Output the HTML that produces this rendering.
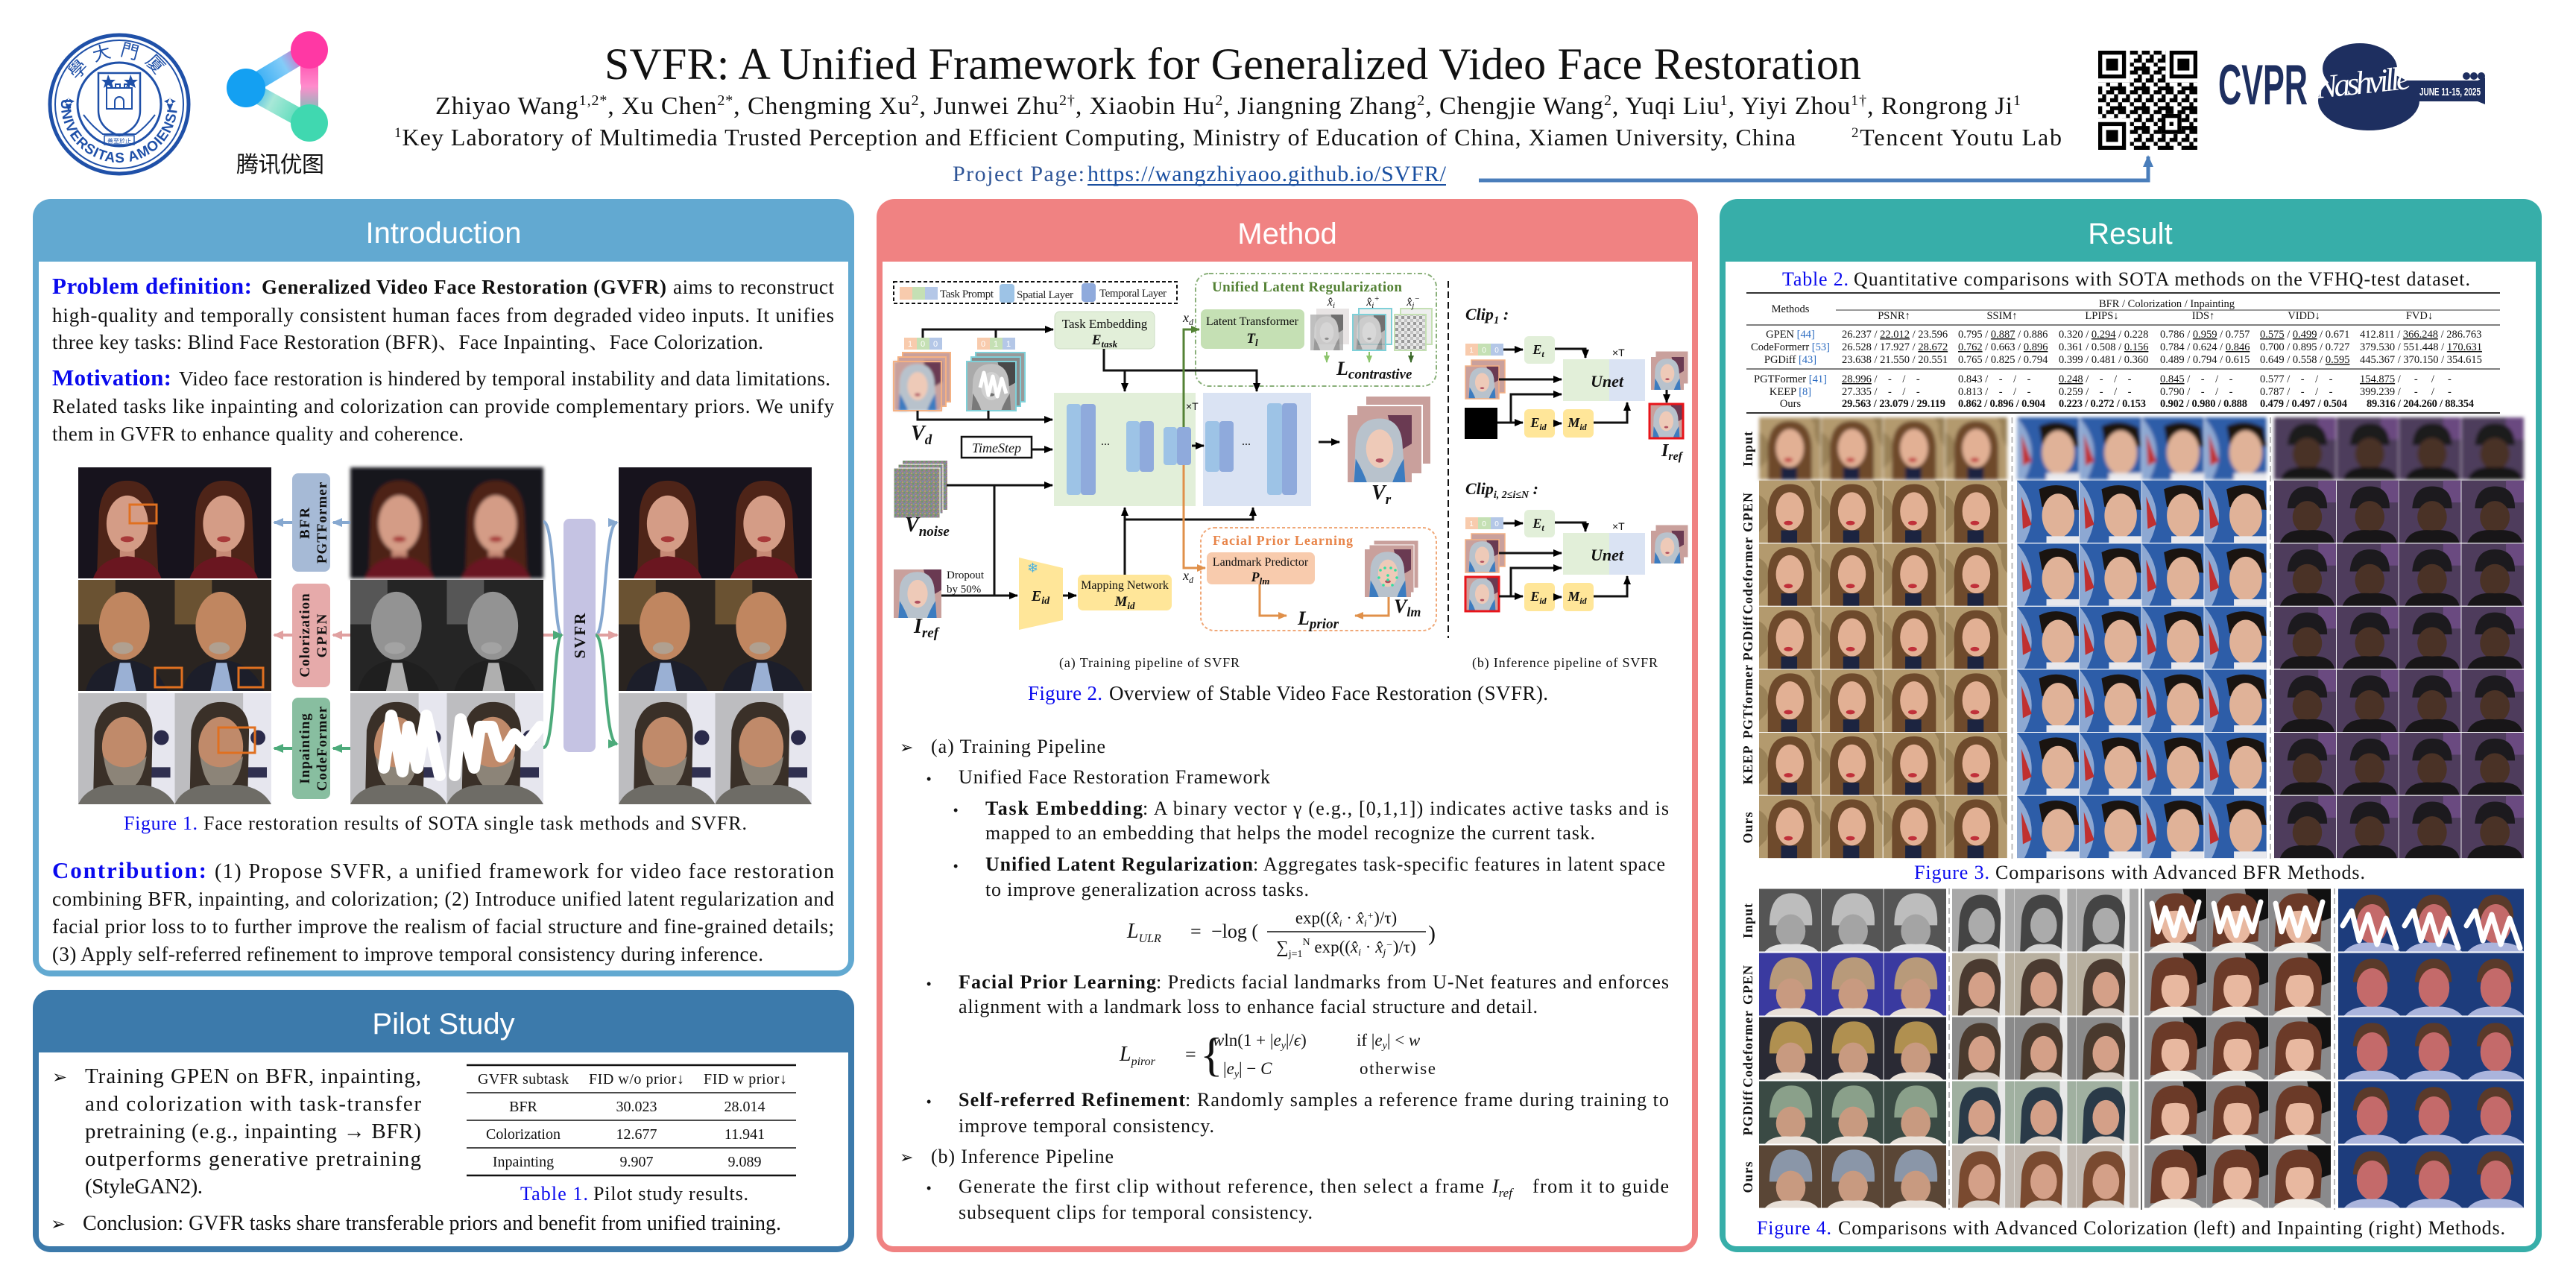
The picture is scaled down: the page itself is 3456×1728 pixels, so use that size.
<!DOCTYPE html>
<html><head><meta charset="utf-8">
<style>
html,body{margin:0;padding:0;background:#fff;}
svg{display:block}
.s{font-family:"Liberation Serif","Noto Serif CJK SC",serif;}
.sa{font-family:"Liberation Sans","Noto Sans CJK SC",sans-serif;}
.cj{font-family:"Liberation Sans","Noto Sans CJK SC",sans-serif;}
.b{font-weight:bold}
.it{font-style:italic}
.bl{fill:#0a0aee}
.pre{white-space:pre}
</style></head><body>
<svg width="3456" height="1728" viewBox="0 0 3456 1728" xmlns="http://www.w3.org/2000/svg" xmlns:xlink="http://www.w3.org/1999/xlink">
<defs>
<marker id="ak" markerWidth="14" markerHeight="14" refX="11" refY="7" orient="auto" markerUnits="userSpaceOnUse"><path d="M0,2 L12,7 L0,12 Z" fill="#000"/></marker>
<marker id="ag" markerWidth="14" markerHeight="14" refX="11" refY="7" orient="auto" markerUnits="userSpaceOnUse"><path d="M0,2 L12,7 L0,12 Z" fill="#548235"/></marker>
<marker id="alg" markerWidth="12" markerHeight="12" refX="9" refY="6" orient="auto" markerUnits="userSpaceOnUse"><path d="M0,2 L10,6 L0,10 Z" fill="#8cc46c"/></marker>
<marker id="adg" markerWidth="12" markerHeight="12" refX="9" refY="6" orient="auto" markerUnits="userSpaceOnUse"><path d="M0,2 L10,6 L0,10 Z" fill="#3c6a2a"/></marker>
<marker id="ao" markerWidth="14" markerHeight="14" refX="11" refY="7" orient="auto" markerUnits="userSpaceOnUse"><path d="M0,2 L12,7 L0,12 Z" fill="#e0904a"/></marker>
<marker id="ab1" markerWidth="16" markerHeight="16" refX="12" refY="8" orient="auto" markerUnits="userSpaceOnUse"><path d="M0,2 L14,8 L0,14 Z" fill="#86a8d0"/></marker>
<marker id="ap1" markerWidth="16" markerHeight="16" refX="12" refY="8" orient="auto" markerUnits="userSpaceOnUse"><path d="M0,2 L14,8 L0,14 Z" fill="#e0a0a0"/></marker>
<marker id="agr" markerWidth="16" markerHeight="16" refX="12" refY="8" orient="auto" markerUnits="userSpaceOnUse"><path d="M0,2 L14,8 L0,14 Z" fill="#4caa7a"/></marker>
<marker id="aq" markerWidth="18" markerHeight="18" refX="14" refY="9" orient="auto" markerUnits="userSpaceOnUse"><path d="M0,2 L16,9 L0,16 Z" fill="#4a7ebb"/></marker>
<filter id="gy"><feColorMatrix type="saturate" values="0"/></filter>
<filter id="blr" x="-5%" y="-5%" width="110%" height="110%"><feGaussianBlur stdDeviation="2.5"/></filter>
<filter id="blr2" x="-5%" y="-5%" width="110%" height="110%"><feGaussianBlur stdDeviation="1.5"/></filter>
<pattern id="qrp" width="31.92" height="26.6" patternUnits="userSpaceOnUse" x="2815" y="68">
<path d="M0 0h5.32v5.32h-5.32z M10.64 0h10.64v5.32h-10.64z M26.6 0h5.32v5.32h-5.32z M5.32 5.32h5.32v5.32h-5.32z M21.28 5.32h5.32v10.64h-5.32z M0 10.64h10.64v5.32h-10.64z M15.96 10.64h5.32v5.32h-5.32z M10.64 15.96h5.32v5.32h-5.32z M26.6 15.96h5.32v10.64h-5.32z M0 21.28h5.32v5.32h-5.32z M15.96 21.28h10.64v5.32h-10.64z" fill="#000"/>
</pattern>
<pattern id="nz" width="6" height="6" patternUnits="userSpaceOnUse">
<rect width="6" height="6" fill="#8a8a80"/><rect x="0" y="0" width="2" height="2" fill="#6a9a6a"/><rect x="3" y="1" width="2" height="2" fill="#a07aa0"/><rect x="1" y="3" width="2" height="2" fill="#7a8ab0"/><rect x="4" y="4" width="2" height="2" fill="#b0a070"/>
</pattern>
<pattern id="mos" width="8" height="8" patternUnits="userSpaceOnUse">
<rect width="8" height="8" fill="#e8e8e8"/><rect width="4" height="4" fill="#9a9a9a"/><rect x="4" y="4" width="4" height="4" fill="#c4c4c4"/>
</pattern>
<linearGradient id="tg1" gradientUnits="userSpaceOnUse" x1="330" y1="118" x2="415" y2="67"><stop offset="0" stop-color="#14a0f2"/><stop offset=".6" stop-color="#84ccf8"/><stop offset="1" stop-color="#ff3aa6"/></linearGradient>
<linearGradient id="tg2" gradientUnits="userSpaceOnUse" x1="415" y1="67" x2="415" y2="165"><stop offset="0" stop-color="#ff3aa6"/><stop offset=".5" stop-color="#ff8ccc"/><stop offset="1" stop-color="#40d8b0"/></linearGradient>
<linearGradient id="tg3" gradientUnits="userSpaceOnUse" x1="330" y1="118" x2="415" y2="165"><stop offset="0" stop-color="#14a0f2"/><stop offset=".4" stop-color="#a8e8d8"/><stop offset="1" stop-color="#40d8b0"/></linearGradient>

<symbol id="mw" viewBox="0 0 80 80" preserveAspectRatio="none">
<rect width="80" height="80" fill="#c9a09c"/>
<path d="M50 0 L80 0 L80 34 L66 42 L56 22Z" fill="#6a3a52"/>
<path d="M8 80 L10 30 Q14 4 40 4 Q64 4 68 30 L72 80Z" fill="#b8c2cc"/>
<path d="M8 80 L10 52 Q20 68 24 80Z M72 80 L70 52 Q60 68 56 80Z" fill="#3c7cc0"/>
<ellipse cx="40" cy="40" rx="17" ry="23" fill="#eecab8"/>
<ellipse cx="40" cy="54" rx="5" ry="2.5" fill="#b05060"/>
</symbol>
<symbol id="i1" viewBox="0 0 130 150" preserveAspectRatio="none">
<rect width="130" height="150" fill="#17131d"/>
<path d="M25 150 L28 60 Q32 18 66 18 Q100 18 104 60 L108 150Z" fill="#4e2418"/>
<rect x="56" y="104" width="20" height="22" fill="#c68a76"/>
<ellipse cx="66" cy="76" rx="28" ry="38" fill="#d49c86"/>
<path d="M20 150 Q30 122 66 120 Q102 122 112 150Z" fill="#6a1620"/>
<ellipse cx="66" cy="97" rx="9" ry="4" fill="#a83a3a"/>
</symbol>
<symbol id="i2" viewBox="0 0 130 150" preserveAspectRatio="none">
<rect width="130" height="150" fill="#2a2420"/>
<rect x="0" y="0" width="50" height="60" fill="#6a5232"/>
<ellipse cx="62" cy="62" rx="34" ry="46" fill="#c08660"/>
<path d="M10 150 Q20 110 62 108 Q104 110 120 150Z" fill="#1c1e2a"/>
<path d="M48 150 L56 112 L70 112 L78 150Z" fill="#9ab0d4"/>
<ellipse cx="60" cy="92" rx="14" ry="8" fill="#b0a090"/>
</symbol>
<symbol id="i3" viewBox="0 0 130 150" preserveAspectRatio="none">
<rect width="130" height="150" fill="#bdbdc0"/>
<rect x="92" y="0" width="38" height="150" fill="#e6e6ee"/>
<circle cx="112" cy="60" r="10" fill="#2a2a4a"/>
<rect x="98" y="100" width="26" height="14" fill="#303050"/>
<path d="M20 150 L22 50 Q30 10 65 12 Q98 14 100 50 L98 150Z" fill="#3a3028"/>
<ellipse cx="62" cy="72" rx="30" ry="40" fill="#c08a6a"/>
<path d="M34 85 Q40 130 62 130 Q86 130 92 85 Q80 100 62 100 Q44 100 34 85Z" fill="#8c8478"/>
<path d="M0 150 Q10 128 40 124 L88 124 Q118 128 130 150Z" fill="#6e6c66"/>
</symbol>
<symbol id="fA" viewBox="0 0 84 85" preserveAspectRatio="none">
<rect width="84" height="85" fill="#b39a6e"/>
<path d="M0 20 Q20 30 10 60 L0 70Z M70 0 L84 0 L84 40Q74 30 76 10Z" fill="#9a8258"/>
<path d="M12 85 L12 40 Q14 5 42 5 Q70 5 72 40 L72 85Z" fill="#6e4a2c"/>
<ellipse cx="42" cy="42" rx="19" ry="26" fill="#e2b094"/>
<ellipse cx="40" cy="58" rx="6" ry="3" fill="#c0303a"/>
<rect x="30" y="68" width="22" height="17" fill="#1c2440"/>
</symbol>
<symbol id="fB" viewBox="0 0 84 85" preserveAspectRatio="none">
<rect width="84" height="85" fill="#2d5da8"/>
<path d="M0 0 Q34 40 10 85 L0 85Z" fill="#dde6f4" opacity=".55"/>
<path d="M6 22 L20 60 L8 66Z" fill="#c03030"/>
<path d="M30 12 Q55 0 80 14 L84 40 L34 36Z" fill="#1a1410"/>
<ellipse cx="56" cy="48" rx="22" ry="30" fill="#e0b298"/>
<rect x="40" y="76" width="44" height="9" fill="#e8e8ec"/>
</symbol>
<symbol id="fC" viewBox="0 0 84 85" preserveAspectRatio="none">
<rect width="84" height="85" fill="#4e3c5c"/>
<rect x="60" y="0" width="24" height="30" fill="#6a4a80"/>
<path d="M18 38 Q20 8 45 8 Q72 8 72 38Z" fill="#1c1a1e"/>
<ellipse cx="45" cy="50" rx="20" ry="22" fill="#4a3226"/>
<path d="M8 85 Q15 65 45 68 Q78 65 82 85Z" fill="#181618"/>
</symbol>
<symbol id="g4A" viewBox="0 0 84 86" preserveAspectRatio="none">
<rect width="84" height="86" fill="currentColor"/>
<path d="M14 50 Q14 6 44 6 Q74 6 72 50Z"/>
<ellipse cx="43" cy="58" rx="20" ry="23" fill="#c89a80"/>
<path d="M8 86 Q18 74 43 76 Q70 74 80 86Z" fill="#e8e0d8"/>
</symbol>
<symbol id="g4B" viewBox="0 0 84 86" preserveAspectRatio="none">
<rect width="84" height="86" fill="currentColor"/>
<rect x="62" y="0" width="10" height="86" fill="#e8e8e8"/>
<path d="M8 86 L10 40 Q14 8 40 8 Q66 8 66 40 L64 86Z"/>
<ellipse cx="40" cy="50" rx="18" ry="24" fill="#d4a088"/>
<path d="M14 86 Q24 74 40 76 Q60 74 66 86Z" fill="#d8d0c8"/>
</symbol>
<symbol id="g4C" viewBox="0 0 84 86" preserveAspectRatio="none">
<rect width="84" height="86" fill="#8a8a8c"/>
<path d="M52 0 L84 0 L84 40 L62 48Z" fill="#111"/>
<path d="M8 80 L10 35 Q14 6 42 6 Q70 6 72 35 L70 72Z" fill="#6b3a28"/>
<ellipse cx="42" cy="50" rx="19" ry="25" fill="#e8b8a0"/>
<path d="M14 38 Q42 22 70 38 L70 28 Q42 8 14 28Z" fill="#6b3a28"/>
<path d="M6 86 Q20 72 42 74 Q64 72 78 86Z" fill="#f0ece6"/>
</symbol>
<symbol id="g4D" viewBox="0 0 84 86" preserveAspectRatio="none">
<rect width="84" height="86" fill="#1d3c7c"/>
<path d="M20 40 Q22 8 46 8 Q70 8 70 40Z" fill="#5a3a2a"/>
<ellipse cx="46" cy="48" rx="21" ry="27" fill="#c46a6a"/>
<path d="M8 86 Q20 72 46 74 Q72 72 84 86Z" fill="#aab4dc"/>
</symbol>

<g id="r3A"><use href="#fA" x="2360" width="82.5" height="83.6"/><use href="#fA" x="2443.3" width="82.5" height="83.6"/><use href="#fA" x="2526.6" width="82.5" height="83.6"/><use href="#fA" x="2609.9" width="83" height="83.6"/></g>
<g id="r3B"><use href="#fB" x="2706" width="83" height="83.6"/><use href="#fB" x="2789.8" width="83" height="83.6"/><use href="#fB" x="2873.5" width="83" height="83.6"/><use href="#fB" x="2957.3" width="83.5" height="83.6"/></g>
<g id="r3C"><use href="#fC" x="3051" width="83" height="83.6"/><use href="#fC" x="3134.8" width="83" height="83.6"/><use href="#fC" x="3218.5" width="83" height="83.6"/><use href="#fC" x="3302.3" width="83.7" height="83.6"/></g>
<g id="r4A"><use href="#g4A" x="2360" width="83" height="84"/><use href="#g4A" x="2443.7" width="83" height="84"/><use href="#g4A" x="2527.4" width="83.6" height="84"/></g>
<g id="r4B"><use href="#g4B" x="2619" width="83" height="84"/><use href="#g4B" x="2702.3" width="83" height="84"/><use href="#g4B" x="2785.6" width="83.4" height="84"/></g>
<g id="r4C"><use href="#g4C" x="2877" width="83" height="84"/><use href="#g4C" x="2960.3" width="83" height="84"/><use href="#g4C" x="3043.6" width="83.4" height="84"/></g>
<g id="r4D"><use href="#g4D" x="3137" width="83" height="84"/><use href="#g4D" x="3220" width="83" height="84"/><use href="#g4D" x="3303" width="83" height="84"/></g>
</defs>

<rect width="3456" height="1728" fill="#fff"/>

<!-- HEADER -->
<g transform="translate(160,140)" fill="none" stroke="#1f50a8">
<circle r="93" stroke-width="5"/>
<circle r="86" stroke-width="2"/>
<circle r="56" stroke-width="3"/>
<path d="M-28 -42 L28 -42 L28 8 Q28 32 0 42 Q-28 32 -28 8 Z" stroke-width="2.5"/>
<rect x="-17" y="-22" width="34" height="28" stroke-width="2"/>
<path d="M-17 -22 v-5 h6 v5 M-5 -22 v-5 h6 v5 M7 -22 v-5 h6 v5" stroke-width="2"/>
<path d="M-6 6 v-10 a6 6 0 0 1 12 0 v10" stroke-width="2"/>
<path d="M-48 14 Q-36 30 -22 40 L22 40 Q36 30 48 14" stroke-width="2"/>
<rect x="-20" y="42" width="40" height="12" stroke-width="1.5"/>
</g>
<g fill="#1f50a8">
<path d="M88 140 l4 -9 l4 9 l-4 9z M84 136 l8 4 l8 -4 l-8 -4z M232 140 l-4 -9 l-4 9 l4 9z M236 136 l-8 4 l-8 -4 l8 -4z"/>
<path d="M145 100 l3 7 l7 0 l-5 4 l2 7 l-7 -4 l-6 4 l2 -7 l-5 -4 l7 0z M175 100 l3 7 l7 0 l-5 4 l2 7 l-7 -4 l-6 4 l2 -7 l-5 -4 l7 0z"/>
</g>
<path id="sealB" d="M82 140 A78 78 0 0 0 238 140" fill="none"/>
<path id="sealT" d="M96 140 A64 64 0 0 1 224 140" fill="none"/>
<text class="sa b" font-size="19" fill="#1f50a8" letter-spacing="1"><textPath href="#sealB" startOffset="50%" text-anchor="middle">UNIVERSITAS AMOIENSIS</textPath></text>
<text class="cj" font-size="24" fill="#1f50a8"><textPath href="#sealT" startOffset="50%" text-anchor="middle" letter-spacing="10">學大門厦</textPath></text>
<text x="160" y="192" class="cj" font-size="8" fill="#1f50a8" text-anchor="middle">善至於止</text>

<g fill="none" stroke-linecap="round">
<line x1="330" y1="118" x2="415" y2="67" stroke="url(#tg1)" stroke-width="24"/>
<line x1="415" y1="67" x2="415" y2="165" stroke="url(#tg2)" stroke-width="24"/>
<line x1="330" y1="118" x2="415" y2="165" stroke="url(#tg3)" stroke-width="24"/>
</g>
<circle cx="330" cy="118" r="26" fill="#14a0f2"/>
<circle cx="415" cy="67" r="25" fill="#ff38a4"/>
<circle cx="415" cy="165" r="25" fill="#40d8b0"/>
<circle cx="389" cy="117" r="15" fill="#fff"/>
<text x="317" y="231" class="cj" font-size="30" fill="#111" textLength="118">腾讯优图</text>

<text x="811" y="106" class="s" font-size="60" fill="#111" textLength="1686">SVFR: A Unified Framework for Generalized Video Face Restoration</text>
<text x="584" y="153" class="s" font-size="34" fill="#111" textLength="2127">Zhiyao Wang<tspan font-size="20" dy="-12">1,2*</tspan><tspan dy="12">,  Xu Chen</tspan><tspan font-size="20" dy="-12">2*</tspan><tspan dy="12">,  Chengming Xu</tspan><tspan font-size="20" dy="-12">2</tspan><tspan dy="12">,  Junwei Zhu</tspan><tspan font-size="20" dy="-12">2†</tspan><tspan dy="12">,  Xiaobin Hu</tspan><tspan font-size="20" dy="-12">2</tspan><tspan dy="12">,  Jiangning Zhang</tspan><tspan font-size="20" dy="-12">2</tspan><tspan dy="12">,  Chengjie Wang</tspan><tspan font-size="20" dy="-12">2</tspan><tspan dy="12">,  Yuqi Liu</tspan><tspan font-size="20" dy="-12">1</tspan><tspan dy="12">,  Yiyi Zhou</tspan><tspan font-size="20" dy="-12">1†</tspan><tspan dy="12">,  Rongrong Ji</tspan><tspan font-size="20" dy="-12">1</tspan></text>
<text x="529" y="195" class="s" font-size="32" fill="#111" textLength="1880"><tspan font-size="19" dy="-11">1</tspan><tspan dy="11">Key Laboratory of Multimedia Trusted Perception and Efficient Computing, Ministry of Education of China, Xiamen University, China</tspan></text>
<text x="2484" y="195" class="s" font-size="32" fill="#111" textLength="282"><tspan font-size="19" dy="-11">2</tspan><tspan dy="11">Tencent Youtu Lab</tspan></text>
<text x="1278" y="243" class="s" font-size="30" fill="#2f5597" textLength="177">Project Page:</text>
<text x="1459" y="243" class="s" font-size="30" fill="#1a4fa0" textLength="481">https://wangzhiyaoo.github.io/SVFR/</text>
<line x1="1459" y1="248" x2="1940" y2="248" stroke="#1a4fa0" stroke-width="2"/>
<path d="M1984 242 H2882 V210" fill="none" stroke="#4a7ebb" stroke-width="5" marker-end="url(#aq)"/>

<rect x="2815" y="68" width="133" height="133" fill="url(#qrp)"/>
<g>
<rect x="2815" y="68" width="42.6" height="42.6" fill="#fff"/>
<rect x="2905.4" y="68" width="42.6" height="42.6" fill="#fff"/>
<rect x="2815" y="158.4" width="42.6" height="42.6" fill="#fff"/>
<rect x="2815" y="68" width="37.24" height="37.24" fill="#000"/><rect x="2820.32" y="73.32" width="26.6" height="26.6" fill="#fff"/><rect x="2825.64" y="78.64" width="15.96" height="15.96" fill="#000"/>
<rect x="2910.76" y="68" width="37.24" height="37.24" fill="#000"/><rect x="2916.08" y="73.32" width="26.6" height="26.6" fill="#fff"/><rect x="2921.4" y="78.64" width="15.96" height="15.96" fill="#000"/>
<rect x="2815" y="163.76" width="37.24" height="37.24" fill="#000"/><rect x="2820.32" y="169.08" width="26.6" height="26.6" fill="#fff"/><rect x="2825.64" y="174.4" width="15.96" height="15.96" fill="#000"/>
<rect x="2900" y="153" width="26.6" height="26.6" fill="#000"/><rect x="2905.3" y="158.3" width="16" height="16" fill="#fff"/><rect x="2910.6" y="163.6" width="5.32" height="5.32" fill="#000"/>
</g>

<text x="2976" y="140" class="sa b" font-size="76" fill="#1e2f60" textLength="120" lengthAdjust="spacingAndGlyphs">CVPR</text>
<ellipse cx="3166" cy="92" rx="50" ry="34" fill="#1e2f60"/>
<ellipse cx="3178" cy="135" rx="68" ry="40" fill="#1e2f60"/>
<path d="M3225 108 H3324 L3334 104 V140 L3324 136 H3225Z" fill="#1e2f60"/>
<circle cx="3309" cy="102" r="5" fill="#1e2f60"/><circle cx="3319" cy="102" r="5" fill="#1e2f60"/><circle cx="3329" cy="102" r="5" fill="#1e2f60"/>
<text x="3108" y="132" class="s it" font-size="44" fill="#fff" textLength="128" transform="rotate(-6 3108 132)">Nashville</text>
<text x="3246" y="128" class="sa b" font-size="15" fill="#fff" textLength="82" lengthAdjust="spacingAndGlyphs">JUNE 11-15, 2025</text>

<!-- PANELS -->
<rect x="44" y="267" width="1102" height="1043" rx="24" fill="#62a9d1"/>
<rect x="52" y="351" width="1086" height="951" rx="14" fill="#fff"/><rect x="52" y="351" width="1086" height="30" fill="#fff"/>
<text x="595" y="326" class="sa" font-size="40" fill="#fff" text-anchor="middle">Introduction</text>

<rect x="44" y="1328" width="1102" height="352" rx="24" fill="#3c7aab"/>
<rect x="52" y="1412" width="1086" height="260" rx="14" fill="#fff"/><rect x="52" y="1412" width="1086" height="30" fill="#fff"/>
<text x="595" y="1387" class="sa" font-size="40" fill="#fff" text-anchor="middle">Pilot Study</text>

<rect x="1176" y="267" width="1102" height="1413" rx="24" fill="#f08282"/>
<rect x="1184" y="351" width="1086" height="1321" rx="14" fill="#fff"/><rect x="1184" y="351" width="1086" height="30" fill="#fff"/>
<text x="1727" y="327" class="sa" font-size="40" fill="#fff" text-anchor="middle">Method</text>

<rect x="2307" y="267" width="1103" height="1413" rx="24" fill="#37aea9"/>
<rect x="2315" y="351" width="1087" height="1321" rx="14" fill="#fff"/><rect x="2315" y="351" width="1087" height="30" fill="#fff"/>
<text x="2858" y="327" class="sa" font-size="40" fill="#fff" text-anchor="middle">Result</text>

<!-- INTRODUCTION -->
<g class="s" fill="#111">
<text x="70" y="394" class="b bl" font-size="31" textLength="268">Problem definition:</text>
<text x="351" y="394" class="b" font-size="27" textLength="543">Generalized Video Face Restoration (GVFR)</text>
<text x="903" y="394" font-size="27" textLength="216">aims to reconstruct</text>
<text x="70" y="432" font-size="27" textLength="1049">high-quality and temporally consistent human faces from degraded video inputs. It unifies</text>
<text x="70" y="468" font-size="27" textLength="954">three key tasks: Blind Face Restoration (BFR)、Face Inpainting、Face Colorization.</text>
<text x="70" y="517" class="b bl" font-size="31" textLength="160">Motivation:</text>
<text x="240" y="517" font-size="27" textLength="874">Video face restoration is hindered by temporal instability and data limitations.</text>
<text x="70" y="554" font-size="27" textLength="1049">Related tasks like inpainting and colorization can provide complementary priors. We unify</text>
<text x="70" y="591" font-size="27" textLength="552">them in GVFR to enhance quality and coherence.</text>
</g>

<use href="#i1" x="105" y="627" width="129.5" height="149"/><use href="#i1" x="234.5" y="627" width="129.5" height="149"/>
<g filter="url(#blr)"><use href="#i1" x="470" y="627" width="129.5" height="149"/><use href="#i1" x="599.5" y="627" width="129.5" height="149"/></g>
<use href="#i1" x="830" y="627" width="129.5" height="149"/><use href="#i1" x="959.5" y="627" width="129.5" height="149"/>
<use href="#i2" x="105" y="778" width="129.5" height="149"/><use href="#i2" x="234.5" y="778" width="129.5" height="149"/>
<g filter="url(#gy)"><use href="#i2" x="470" y="778" width="129.5" height="149"/><use href="#i2" x="599.5" y="778" width="129.5" height="149"/></g>
<use href="#i2" x="830" y="778" width="129.5" height="149"/><use href="#i2" x="959.5" y="778" width="129.5" height="149"/>
<use href="#i3" x="105" y="930" width="129.5" height="149"/><use href="#i3" x="234.5" y="930" width="129.5" height="149"/>
<use href="#i3" x="470" y="930" width="129.5" height="149"/><use href="#i3" x="599.5" y="930" width="129.5" height="149"/>
<path d="M515 1030 L525 960 L540 1035 L548 975 L560 1030 L572 960 L590 1040 M610 1040 L618 965 L636 1030 L644 975 L660 975 L672 1015 L690 985 L705 1000 L725 975" fill="none" stroke="#fff" stroke-width="16" stroke-linejoin="round" stroke-linecap="round"/>
<use href="#i3" x="830" y="930" width="129.5" height="149"/><use href="#i3" x="959.5" y="930" width="129.5" height="149"/>
<g fill="none" stroke="#e07020" stroke-width="3">
<rect x="174" y="677" width="36" height="25"/><rect x="208" y="896" width="36" height="26"/><rect x="320" y="896" width="33" height="26"/><rect x="293" y="976" width="49" height="34"/>
</g>
<rect x="392" y="635" width="51" height="132" rx="8" fill="#a6bad6"/>
<rect x="392" y="783" width="51" height="139" rx="8" fill="#e6aaaa"/>
<rect x="392" y="936" width="51" height="136" rx="8" fill="#88bea0"/>
<rect x="756" y="696" width="43" height="313" rx="8" fill="#c5c3e3"/>
<g class="s b" font-size="19" fill="#111" text-anchor="middle">
<text transform="translate(415,701) rotate(-90)" letter-spacing="2">BFR</text>
<text transform="translate(438,701) rotate(-90)" letter-spacing="1">PGTFormer</text>
<text transform="translate(415,852) rotate(-90)" letter-spacing="1">Colorization</text>
<text transform="translate(438,852) rotate(-90)" letter-spacing="2">GPEN</text>
<text transform="translate(415,1004) rotate(-90)" letter-spacing="1">Inpainting</text>
<text transform="translate(438,1004) rotate(-90)" letter-spacing="1">CodeFormer</text>
<text transform="translate(785,852) rotate(-90)" font-size="21" letter-spacing="2">SVFR</text>
</g>
<g fill="none" stroke-width="4">
<path d="M470 701 H447" stroke="#86a8d0" marker-end="url(#ab1)"/><path d="M392 701 H368" stroke="#86a8d0" marker-end="url(#ab1)"/>
<path d="M470 852 H447" stroke="#e0a0a0" marker-end="url(#ap1)"/><path d="M392 852 H368" stroke="#e0a0a0" marker-end="url(#ap1)"/>
<path d="M470 1004 H447" stroke="#4caa7a" marker-end="url(#agr)"/><path d="M392 1004 H368" stroke="#4caa7a" marker-end="url(#agr)"/>
<path d="M729 700 C745 700 742 852 754 852" stroke="#86a8d0" marker-end="url(#ab1)"/>
<path d="M729 852 H754" stroke="#e0a0a0" marker-end="url(#ap1)"/>
<path d="M729 1003 C745 1003 742 852 754 852" stroke="#4caa7a" marker-end="url(#agr)"/>
<path d="M799 852 C814 852 810 701 828 701" stroke="#86a8d0" marker-end="url(#ab1)"/>
<path d="M799 852 H828" stroke="#e0a0a0" marker-end="url(#ap1)"/>
<path d="M799 852 C814 852 810 998 828 998" stroke="#4caa7a" marker-end="url(#agr)"/>
</g>
<text x="166" y="1113" class="s bl" font-size="26" textLength="99">Figure 1.</text>
<text x="273" y="1113" class="s" font-size="26" fill="#111" textLength="729">Face restoration results of SOTA single task methods and SVFR.</text>

<g class="s" fill="#111">
<text x="70" y="1178" class="b bl" font-size="31" textLength="207">Contribution:</text>
<text x="288" y="1178" font-size="28" textLength="831">(1) Propose SVFR, a unified framework for video face restoration</text>
<text x="70" y="1215" font-size="27" textLength="1049">combining BFR, inpainting, and colorization; (2) Introduce unified latent regularization and</text>
<text x="70" y="1252" font-size="27" textLength="1049">facial prior loss to to further improve the realism of facial structure and fine-grained details;</text>
<text x="70" y="1289" font-size="27" textLength="954">(3) Apply self-referred refinement to improve temporal consistency during inference.</text>
</g>

<!-- PILOT -->
<g class="s" fill="#111">
<text x="70" y="1453" font-size="24" class="sa">➢</text>
<text x="114" y="1453" font-size="29" textLength="451">Training GPEN on BFR, inpainting,</text>
<text x="114" y="1490" font-size="29" textLength="451">and colorization with task-transfer</text>
<text x="114" y="1527" font-size="29" textLength="451">pretraining (e.g., inpainting → BFR)</text>
<text x="114" y="1564" font-size="29" textLength="451">outperforms generative pretraining</text>
<text x="114" y="1601" font-size="29" textLength="158">(StyleGAN2).</text>
<text x="68" y="1650" font-size="24" class="sa">➢</text>
<text x="111" y="1650" font-size="28" textLength="937">Conclusion: GVFR tasks share transferable priors and benefit from unified training.</text>
</g>
<g stroke="#111">
<line x1="626" y1="1429" x2="1068" y2="1429" stroke-width="2.5"/>
<line x1="626" y1="1466" x2="1068" y2="1466" stroke-width="1.5"/>
<line x1="626" y1="1503" x2="1068" y2="1503" stroke-width="1.5"/>
<line x1="626" y1="1540" x2="1068" y2="1540" stroke-width="1.5"/>
<line x1="626" y1="1577" x2="1068" y2="1577" stroke-width="2.5"/>
</g>
<g class="s" font-size="20" fill="#111" text-anchor="middle">
<text x="702" y="1454" textLength="122">GVFR subtask</text><text x="854" y="1454" textLength="128">FID w/o prior↓</text><text x="1000" y="1454" textLength="112">FID w prior↓</text>
<text x="702" y="1491">BFR</text><text x="854" y="1491">30.023</text><text x="999" y="1491">28.014</text>
<text x="702" y="1528">Colorization</text><text x="854" y="1528">12.677</text><text x="999" y="1528">11.941</text>
<text x="702" y="1565">Inpainting</text><text x="854" y="1565">9.907</text><text x="999" y="1565">9.089</text>
</g>
<text x="698" y="1610" class="s bl" font-size="26" textLength="91">Table 1.</text>
<text x="796" y="1610" class="s" font-size="26" fill="#111" textLength="208">Pilot study results.</text>

<!-- METHOD DIAGRAM -->
<rect x="1199" y="378" width="380" height="29" fill="#fff" stroke="#111" stroke-width="2" stroke-dasharray="5 3"/>
<rect x="1207" y="385" width="17" height="17" fill="#f8cbad"/><rect x="1224" y="385" width="17" height="17" fill="#c5e0b4"/><rect x="1241" y="385" width="17" height="17" fill="#b4c7e7"/>
<text x="1261" y="399" class="s" font-size="15" fill="#222" textLength="72">Task Prompt</text>
<rect x="1341" y="381" width="20" height="25" rx="4" fill="#9dc3e6"/>
<text x="1364" y="400" class="s" font-size="15" fill="#222" textLength="76">Spatial Layer</text>
<rect x="1451" y="380" width="19" height="25" rx="4" fill="#8faadc"/>
<text x="1475" y="398" class="s" font-size="15" fill="#222" textLength="90">Temporal Layer</text>

<rect x="1415" y="418" width="134" height="50" rx="7" fill="#e2efd9" stroke="#ccdcc4"/>
<text x="1482" y="440" class="s" font-size="17" fill="#111" text-anchor="middle">Task Embedding</text>
<text x="1482" y="462" class="s it b" font-size="19" fill="#111" text-anchor="middle">E<tspan font-size="13" dy="4">task</tspan></text>

<g class="sa" font-size="11" fill="#fff" text-anchor="middle">
<rect x="1213" y="453" width="17" height="16" fill="#f8cbad"/><rect x="1230" y="453" width="17" height="16" fill="#c5e0b4"/><rect x="1247" y="453" width="17" height="16" fill="#b4c7e7"/>
<text x="1221" y="465">1</text><text x="1238" y="465">0</text><text x="1255" y="465">0</text>
<rect x="1311" y="453" width="17" height="16" fill="#f8cbad"/><rect x="1328" y="453" width="17" height="16" fill="#c5e0b4"/><rect x="1345" y="453" width="17" height="16" fill="#b4c7e7"/>
<text x="1319" y="465">0</text><text x="1336" y="465">1</text><text x="1353" y="465">1</text>
</g>
<g stroke="#f4b183" stroke-width="2">
<rect x="1211" y="473" width="64" height="66" fill="#c9a09c"/><rect x="1205" y="479" width="64" height="66" fill="#c9a09c"/>
</g>
<g filter="url(#blr2)"><use href="#mw" x="1199" y="485" width="64" height="66"/></g>
<rect x="1199" y="485" width="64" height="66" fill="none" stroke="#f4b183" stroke-width="2"/>
<g stroke="#7fd0d8" stroke-width="2">
<rect x="1309" y="473" width="66" height="66" fill="#999"/><rect x="1303" y="479" width="66" height="66" fill="#888"/>
</g>
<g filter="url(#gy)"><use href="#mw" x="1297" y="485" width="66" height="66"/></g>
<path d="M1315 520 L1320 500 L1326 530 L1332 505 L1338 532 L1344 508 L1350 528" fill="none" stroke="#fff" stroke-width="5" stroke-linejoin="round"/>
<rect x="1297" y="485" width="66" height="66" fill="none" stroke="#7fd0d8" stroke-width="2"/>
<text x="1222" y="590" class="s it b" font-size="28" fill="#111">V<tspan font-size="19" dy="6">d</tspan></text>

<rect x="1414" y="527" width="190" height="152" fill="#e2efd9"/>
<rect x="1614" y="527" width="145" height="152" fill="#dae3f3"/>
<g>
<rect x="1431" y="542" width="19" height="122" rx="4" fill="#9dc3e6"/><rect x="1450" y="542" width="20" height="122" rx="4" fill="#8faadc"/>
<rect x="1511" y="565" width="18" height="68" rx="4" fill="#9dc3e6"/><rect x="1529" y="565" width="19" height="68" rx="4" fill="#8faadc"/>
<rect x="1561" y="573" width="18" height="51" rx="4" fill="#9dc3e6"/><rect x="1579" y="573" width="19" height="51" rx="4" fill="#8faadc"/>
<rect x="1617" y="565" width="19" height="68" rx="4" fill="#9dc3e6"/><rect x="1636" y="565" width="19" height="68" rx="4" fill="#8faadc"/>
<rect x="1700" y="541" width="20" height="123" rx="4" fill="#9dc3e6"/><rect x="1720" y="541" width="20" height="123" rx="4" fill="#8faadc"/>
</g>
<text x="1483" y="597" class="s" font-size="16" fill="#111" text-anchor="middle">...</text>
<text x="1672" y="597" class="s" font-size="16" fill="#111" text-anchor="middle">...</text>
<text x="1591" y="550" class="sa" font-size="14" fill="#111">×T</text>

<rect x="1290" y="586" width="94" height="28" fill="#fff" stroke="#111" stroke-width="2.5"/>
<text x="1337" y="607" class="s it" font-size="18" fill="#111" text-anchor="middle">TimeStep</text>

<rect x="1211" y="618" width="60" height="66" fill="url(#nz)"/><rect x="1205" y="623" width="60" height="66" fill="url(#nz)" stroke="#fff"/>
<rect x="1199" y="628" width="62" height="67" fill="url(#nz)" stroke="#fff"/>
<text x="1214" y="713" class="s it b" font-size="28" fill="#111">V<tspan font-size="19" dy="6">noise</tspan></text>

<use href="#mw" x="1199" y="764" width="64" height="65"/>
<text x="1226" y="849" class="s it b" font-size="28" fill="#111">I<tspan font-size="19" dy="6">ref</tspan></text>
<text x="1270" y="776" class="s" font-size="15" fill="#111">Dropout</text>
<text x="1270" y="795" class="s" font-size="15" fill="#111">by 50%</text>

<path d="M1367 748 L1426 762 L1426 832 L1367 845 Z" fill="#ffe699"/>
<text x="1378" y="768" font-size="18" fill="#4ab0e0" class="sa">❄</text>
<text x="1396" y="806" class="s it b" font-size="20" fill="#111" text-anchor="middle">E<tspan font-size="14" dy="4">id</tspan></text>
<rect x="1446" y="771" width="126" height="48" rx="7" fill="#ffe699"/>
<text x="1509" y="790" class="s" font-size="16" fill="#111" text-anchor="middle">Mapping Network</text>
<text x="1509" y="813" class="s it b" font-size="19" fill="#111" text-anchor="middle">M<tspan font-size="13" dy="4">id</tspan></text>

<rect x="1604" y="367" width="323" height="151" rx="18" fill="none" stroke="#8ab07a" stroke-width="2" stroke-dasharray="6 3 2 3"/>
<text x="1626" y="391" class="s b" font-size="19" fill="#548235" textLength="255">Unified Latent Regularization</text>
<rect x="1611" y="415" width="139" height="53" rx="7" fill="#c5e0b4"/>
<text x="1680" y="436" class="s" font-size="16" fill="#111" text-anchor="middle">Latent Transformer</text>
<text x="1680" y="460" class="s it b" font-size="19" fill="#111" text-anchor="middle">T<tspan font-size="13" dy="4">l</tspan></text>
<rect x="1766" y="414" width="44" height="48" fill="#e8e4e4"/>
<g filter="url(#gy)" opacity=".75"><use href="#mw" x="1758" y="422" width="44" height="48"/></g>
<rect x="1823" y="414" width="44" height="48" fill="#eee" stroke="#7fd0d8" stroke-width="2"/>
<g filter="url(#gy)" opacity=".75"><use href="#mw" x="1815" y="422" width="44" height="48"/></g>
<rect x="1815" y="422" width="44" height="48" fill="none" stroke="#7fd0d8" stroke-width="2"/>
<rect x="1879" y="414" width="42" height="48" fill="#eee" stroke="#c5e0b4" stroke-width="2"/>
<rect x="1871" y="422" width="42" height="48" fill="url(#mos)" stroke="#c5e0b4" stroke-width="2"/>
<g class="s it" font-size="16" fill="#111" text-anchor="middle">
<text x="1786" y="410">x̂<tspan font-size="11" dy="3">i</tspan></text>
<text x="1842" y="410">x̂<tspan font-size="11" dy="3">i</tspan><tspan font-size="11" dy="-9">+</tspan></text>
<text x="1896" y="410">x̂<tspan font-size="11" dy="3">j</tspan><tspan font-size="11" dy="-9">−</tspan></text>
</g>
<path d="M1780 472 V486" stroke="#8cc46c" stroke-width="2" marker-end="url(#alg)"/>
<path d="M1837 472 V486" stroke="#8cc46c" stroke-width="2" marker-end="url(#alg)"/>
<path d="M1893 472 V486" stroke="#3c6a2a" stroke-width="2" marker-end="url(#adg)"/>
<text x="1793" y="503" class="s it b" font-size="26" fill="#111">L<tspan font-size="19" dy="5">contrastive</tspan></text>

<rect x="1611" y="708" width="316" height="138" rx="18" fill="none" stroke="#f0a878" stroke-width="2" stroke-dasharray="4 3"/>
<text x="1627" y="731" class="s b" font-size="18" fill="#e8854a" textLength="188">Facial Prior Learning</text>
<rect x="1619" y="741" width="145" height="43" rx="7" fill="#f8cbad"/>
<text x="1691" y="759" class="s" font-size="16" fill="#111" text-anchor="middle">Landmark Predictor</text>
<text x="1691" y="780" class="s it b" font-size="18" fill="#111" text-anchor="middle">P<tspan font-size="13" dy="4">lm</tspan></text>
<rect x="1843" y="725" width="60" height="64" fill="#c9a09c" stroke="#fff"/><rect x="1837" y="731" width="60" height="64" fill="#c9a09c" stroke="#fff"/>
<use href="#mw" x="1831" y="737" width="62" height="64"/>
<g fill="#30e0a0"><circle cx="1852" cy="765" r="1.8"/><circle cx="1858" cy="762" r="1.8"/><circle cx="1866" cy="762" r="1.8"/><circle cx="1872" cy="765" r="1.8"/><circle cx="1862" cy="772" r="1.8"/><circle cx="1862" cy="778" r="1.8"/><circle cx="1856" cy="785" r="1.8"/><circle cx="1868" cy="785" r="1.8"/><circle cx="1850" cy="775" r="1.8"/><circle cx="1874" cy="775" r="1.8"/></g>
<text x="1870" y="822" class="s it b" font-size="26" fill="#111">V<tspan font-size="18" dy="5">lm</tspan></text>
<text x="1741" y="838" class="s it b" font-size="26" fill="#111">L<tspan font-size="19" dy="5">prior</tspan></text>

<rect x="1832" y="531" width="88" height="92" fill="#c9a09c" stroke="#fff" stroke-width="2"/>
<rect x="1820" y="544" width="88" height="92" fill="#c9a09c" stroke="#fff" stroke-width="2"/>
<use href="#mw" x="1808" y="557" width="86" height="90"/>
<text x="1840" y="670" class="s it b" font-size="28" fill="#111">V<tspan font-size="19" dy="6">r</tspan></text>

<g fill="none" stroke="#111" stroke-width="3">
<path d="M1238 453 V442 H1413" marker-end="url(#ak)"/>
<path d="M1336 453 V442"/>
<path d="M1231 551 V563 H1412" marker-end="url(#ak)"/>
<path d="M1326 551 V563"/>
<path d="M1384 603 H1412" marker-end="url(#ak)"/>
<path d="M1270 651 H1412" marker-end="url(#ak)"/>
<path d="M1334 651 V799"/>
<path d="M1263 799 H1365" marker-end="url(#ak)"/>
<path d="M1426 799 H1444" marker-end="url(#ak)"/>
<path d="M1509 771 V681" marker-end="url(#ak)"/>
<path d="M1509 697 H1681 V681" marker-end="url(#ak)"/>
<path d="M1481 468 V497 H1686 V525" marker-end="url(#ak)"/>
<path d="M1509 497 V525" marker-end="url(#ak)"/>
<path d="M1599 598 H1615" marker-end="url(#ak)"/>
<path d="M1769 593 H1797" marker-end="url(#ak)"/>
</g>
<path d="M1588 573 V442 H1609" fill="none" stroke="#548235" stroke-width="3" marker-end="url(#ag)"/>
<text x="1587" y="432" class="s it" font-size="18" fill="#111">x<tspan font-size="12" dy="4">d</tspan></text>
<path d="M1588 624 V762 H1617" fill="none" stroke="#e0904a" stroke-width="3" marker-end="url(#ao)"/>
<text x="1587" y="778" class="s it" font-size="18" fill="#111">x<tspan font-size="12" dy="4">d</tspan></text>
<path d="M1690 784 V826 H1726" fill="none" stroke="#e0904a" stroke-width="3" marker-end="url(#ao)"/>
<path d="M1863 801 V826 H1818" fill="none" stroke="#e0904a" stroke-width="3" marker-end="url(#ao)"/>

<line x1="1943" y1="377" x2="1943" y2="856" stroke="#111" stroke-width="2" stroke-dasharray="9 5"/>

<text x="1966" y="429" class="s it b" font-size="22" fill="#111">Clip<tspan font-size="15" dy="5">1</tspan><tspan dy="-5"> :</tspan></text>
<text x="1966" y="663" class="s it b" font-size="22" fill="#111">Clip<tspan font-size="14" dy="5">i, 2≤i≤N</tspan><tspan dy="-5"> :</tspan></text>
<g id="inf1">
<g class="sa" font-size="10" fill="#fff" text-anchor="middle">
<rect x="1966" y="461" width="17" height="16" fill="#f8cbad"/><rect x="1983" y="461" width="17" height="16" fill="#c5e0b4"/><rect x="2000" y="461" width="17" height="16" fill="#b4c7e7"/>
<text x="1974" y="473">1</text><text x="1991" y="473">0</text><text x="2008" y="473">0</text>
</g>
<rect x="2045" y="451" width="41" height="37" rx="6" fill="#e2efd9"/>
<text x="2064" y="475" class="s it b" font-size="18" fill="#111" text-anchor="middle">E<tspan font-size="12" dy="4">t</tspan></text>
<rect x="2097" y="482" width="62" height="56" fill="#e2efd9"/><rect x="2159" y="482" width="48" height="56" fill="#dae3f3"/>
<text x="2156" y="519" class="s it b" font-size="22" fill="#111" text-anchor="middle">Unet</text>
<text x="2163" y="478" class="sa" font-size="14" fill="#111">×T</text>
<rect x="1974" y="483" width="45" height="44" fill="#c9a09c" stroke="#f4b183" stroke-width="1.5"/>
<use href="#mw" x="1966" y="491" width="45" height="44"/>
<rect x="1966" y="491" width="45" height="44" fill="none" stroke="#f4b183" stroke-width="1.5"/>
<rect x="2045" y="549" width="41" height="38" rx="6" fill="#ffe699"/>
<text x="2064" y="573" class="s it b" font-size="18" fill="#111" text-anchor="middle">E<tspan font-size="12" dy="4">id</tspan></text>
<rect x="2097" y="549" width="41" height="38" rx="6" fill="#ffe699"/>
<text x="2116" y="573" class="s it b" font-size="18" fill="#111" text-anchor="middle">M<tspan font-size="12" dy="4">id</tspan></text>
<rect x="2221" y="471" width="44" height="44" fill="#c9a09c" stroke="#fff"/>
<use href="#mw" x="2215" y="479" width="44" height="44"/>
<g fill="none" stroke="#111" stroke-width="3">
<path d="M2017 469 H2043" marker-end="url(#ak)"/>
<path d="M2086 468 H2127 V480" marker-end="url(#ak)"/>
<path d="M2011 509 H2095" marker-end="url(#ak)"/>
<path d="M2086 568 H2095" marker-end="url(#ak)"/>
<path d="M2138 567 H2183 V540" marker-end="url(#ak)"/>
</g>
</g>
<rect x="1965" y="547" width="44" height="42" fill="#000"/>
<g fill="none" stroke="#111" stroke-width="3">
<path d="M2009 567 H2043" marker-end="url(#ak)"/>
<path d="M2027 567 V529 H2095" marker-end="url(#ak)"/>
<path d="M2236 523 V540" marker-end="url(#ak)"/>
</g>
<use href="#mw" x="2213" y="542" width="45" height="46"/>
<rect x="2213" y="542" width="45" height="46" fill="none" stroke="#e8141a" stroke-width="3"/>
<text x="2229" y="612" class="s it b" font-size="24" fill="#111">I<tspan font-size="16" dy="5">ref</tspan></text>
<use href="#inf1" y="233"/>
<use href="#mw" x="1966" y="774" width="45" height="46"/>
<rect x="1966" y="774" width="45" height="46" fill="none" stroke="#e8141a" stroke-width="3"/>
<g fill="none" stroke="#111" stroke-width="3">
<path d="M2011 800 H2043" marker-end="url(#ak)"/>
<path d="M2027 800 V762 H2095" marker-end="url(#ak)"/>
</g>

<text x="1421" y="895" class="s" font-size="18" fill="#111" textLength="242">(a) Training pipeline of SVFR</text>
<text x="1975" y="895" class="s" font-size="18" fill="#111" textLength="249">(b) Inference pipeline of SVFR</text>
<text x="1379" y="939" class="s bl" font-size="27" textLength="100">Figure 2.</text>
<text x="1488" y="939" class="s" font-size="27" fill="#111" textLength="589">Overview of Stable Video Face Restoration (SVFR).</text>

<!-- Method text -->
<g class="s" fill="#111" font-size="26">
<text x="1207" y="1010" class="sa" font-size="22">➢</text>
<text x="1249" y="1010" textLength="234">(a) Training Pipeline</text>
<text x="1243" y="1051" class="sa" font-size="18">•</text>
<text x="1286" y="1051" textLength="418">Unified Face Restoration Framework</text>
<text x="1279" y="1093" class="sa" font-size="18">•</text>
<text x="1322" y="1093" class="b" textLength="211">Task Embedding</text>
<text x="1533" y="1093" textLength="706">: A binary vector γ (e.g., [0,1,1]) indicates active tasks and is</text>
<text x="1322" y="1126" textLength="818">mapped to an embedding that helps the model recognize the current task.</text>
<text x="1279" y="1168" class="sa" font-size="18">•</text>
<text x="1322" y="1168" class="b" textLength="359">Unified Latent Regularization</text>
<text x="1681" y="1168" textLength="553">: Aggregates task-specific features in latent space</text>
<text x="1322" y="1202" textLength="434">to improve generalization across tasks.</text>
<text x="1243" y="1326" class="sa" font-size="18">•</text>
<text x="1286" y="1326" class="b" textLength="265">Facial Prior Learning</text>
<text x="1551" y="1326" textLength="688">: Predicts facial landmarks from U-Net features and enforces</text>
<text x="1286" y="1359" textLength="777">alignment with a landmark loss to enhance facial structure and detail.</text>
<text x="1243" y="1484" class="sa" font-size="18">•</text>
<text x="1286" y="1484" class="b" textLength="304">Self-referred Refinement</text>
<text x="1590" y="1484" textLength="649">: Randomly samples a reference frame during training to</text>
<text x="1286" y="1519" textLength="343">improve temporal consistency.</text>
<text x="1207" y="1560" class="sa" font-size="22">➢</text>
<text x="1249" y="1560" textLength="245">(b) Inference Pipeline</text>
<text x="1243" y="1600" class="sa" font-size="18">•</text>
<text x="1286" y="1600" textLength="705">Generate the first clip without reference, then select a frame</text>
<text x="2002" y="1600" class="it">I<tspan font-size="17" dy="6">ref</tspan></text>
<text x="2056" y="1600" textLength="183">from it to guide</text>
<text x="1286" y="1635" textLength="475">subsequent clips for temporal consistency.</text>
</g>
<g class="s" fill="#111">
<text x="1512" y="1258" class="it" font-size="28">L<tspan font-size="16" dy="6">ULR</tspan></text>
<text x="1597" y="1258" font-size="26">=</text>
<text x="1625" y="1258" font-size="26">−log (</text>
<text x="1806" y="1239" font-size="23" text-anchor="middle">exp((<tspan class="it">x̂<tspan font-size="14" dy="4">i</tspan></tspan><tspan dy="-4"> · </tspan><tspan class="it">x̂<tspan font-size="14" dy="4">i</tspan><tspan font-size="14" dy="-10">+</tspan></tspan><tspan dy="6">)/τ)</tspan></text>
<line x1="1700" y1="1250" x2="1913" y2="1250" stroke="#111" stroke-width="1.5"/>
<text x="1806" y="1278" font-size="23" text-anchor="middle">∑<tspan font-size="14" dy="6">j=1</tspan><tspan font-size="14" dy="-16">N</tspan><tspan dy="10"> exp((</tspan><tspan class="it">x̂<tspan font-size="14" dy="4">i</tspan></tspan><tspan dy="-4"> · </tspan><tspan class="it">x̂<tspan font-size="14" dy="4">j</tspan><tspan font-size="14" dy="-10">−</tspan></tspan><tspan dy="6">)/τ)</tspan></text>
<text x="1916" y="1262" font-size="30">)</text>

<text x="1502" y="1423" class="it" font-size="28">L<tspan font-size="16" dy="6">piror</tspan></text>
<text x="1590" y="1423" font-size="26">=</text>
<text x="1610" y="1436" font-size="64">{</text>
<text x="1627" y="1403" font-size="23"><tspan class="it">w</tspan>ln(1 + |<tspan class="it">e<tspan font-size="14" dy="4">y</tspan></tspan><tspan dy="-4">|/</tspan><tspan class="it">ϵ</tspan>)</text>
<text x="1820" y="1403" font-size="23">if |<tspan class="it">e<tspan font-size="14" dy="4">y</tspan></tspan><tspan dy="-4">| &lt; </tspan><tspan class="it">w</tspan></text>
<text x="1641" y="1441" font-size="23">|<tspan class="it">e<tspan font-size="14" dy="4">y</tspan></tspan><tspan dy="-4">| − </tspan><tspan class="it">C</tspan></text>
<text x="1824" y="1441" font-size="23" textLength="102">otherwise</text>
</g>

<!-- RESULT -->
<text x="2391" y="383" class="s bl" font-size="26" textLength="89">Table 2.</text>
<text x="2487" y="383" class="s" font-size="26" fill="#111" textLength="827">Quantitative comparisons with SOTA methods on the VFHQ-test dataset.</text>
<g stroke="#333">
<line x1="2343" y1="393" x2="3354" y2="393" stroke-width="2"/>
<line x1="2463" y1="416" x2="3354" y2="416" stroke-width="1"/>
<line x1="2343" y1="436" x2="3354" y2="436" stroke-width="1.3"/>
<line x1="2343" y1="495" x2="3354" y2="495" stroke-width="1.3"/>
<line x1="2343" y1="554" x2="3354" y2="554" stroke-width="2"/>
</g>
<g class="s" font-size="14.5" fill="#111">
<text x="2907" y="412" text-anchor="middle">BFR / Colorization / Inpainting</text>
<text x="2402" y="419" text-anchor="middle">Methods</text>
<text x="2541" y="428" text-anchor="middle">PSNR↑</text><text x="2686" y="428" text-anchor="middle">SSIM↑</text><text x="2820" y="428" text-anchor="middle">LPIPS↓</text><text x="2956" y="428" text-anchor="middle">IDS↑</text><text x="3091" y="428" text-anchor="middle">VIDD↓</text><text x="3246" y="428" text-anchor="middle">FVD↓</text>
<text x="2402" y="453" text-anchor="middle">GPEN <tspan fill="#2a6ac0">[44]</tspan></text>
<text x="2402" y="470" text-anchor="middle">CodeFormerr <tspan fill="#2a6ac0">[53]</tspan></text>
<text x="2402" y="487" text-anchor="middle">PGDiff <tspan fill="#2a6ac0">[43]</tspan></text>
<text x="2402" y="513" text-anchor="middle">PGTFormer <tspan fill="#2a6ac0">[41]</tspan></text>
<text x="2402" y="530" text-anchor="middle">KEEP <tspan fill="#2a6ac0">[8]</tspan></text>
<text x="2402" y="546" text-anchor="middle">Ours</text>

<text x="2471" y="453">26.237 / <tspan text-decoration="underline">22.012</tspan> / 23.596</text>
<text x="2627" y="453">0.795 / <tspan text-decoration="underline">0.887</tspan> / 0.886</text>
<text x="2762" y="453">0.320 / <tspan text-decoration="underline">0.294</tspan> / 0.228</text>
<text x="2898" y="453">0.786 / <tspan text-decoration="underline">0.959</tspan> / 0.757</text>
<text x="3032" y="453"><tspan text-decoration="underline">0.575</tspan> / <tspan text-decoration="underline">0.499</tspan> / 0.671</text>
<text x="3166" y="453">412.811 / <tspan text-decoration="underline">366.248</tspan> / 286.763</text>

<text x="2471" y="470">26.528 / 17.927 / <tspan text-decoration="underline">28.672</tspan></text>
<text x="2627" y="470"><tspan text-decoration="underline">0.762</tspan> / 0.663 / <tspan text-decoration="underline">0.896</tspan></text>
<text x="2762" y="470">0.361 / 0.508 / <tspan text-decoration="underline">0.156</tspan></text>
<text x="2898" y="470">0.784 / 0.624 / <tspan text-decoration="underline">0.846</tspan></text>
<text x="3032" y="470">0.700 / 0.895 / 0.727</text>
<text x="3166" y="470">379.530 / 551.448 / <tspan text-decoration="underline">170.631</tspan></text>

<text x="2471" y="487">23.638 / 21.550 / 20.551</text>
<text x="2627" y="487">0.765 / 0.825 / 0.794</text>
<text x="2762" y="487">0.399 / 0.481 / 0.360</text>
<text x="2898" y="487">0.489 / 0.794 / 0.615</text>
<text x="3032" y="487">0.649 / 0.558 / <tspan text-decoration="underline">0.595</tspan></text>
<text x="3166" y="487">445.367 / 370.150 / 354.615</text>

<text x="2471" y="513" class="pre"><tspan text-decoration="underline">28.996</tspan> /    -    /    -</text>
<text x="2627" y="513" class="pre">0.843 /    -    /    -</text>
<text x="2762" y="513" class="pre"><tspan text-decoration="underline">0.248</tspan> /    -    /    -</text>
<text x="2898" y="513" class="pre"><tspan text-decoration="underline">0.845</tspan> /    -    /    -</text>
<text x="3032" y="513" class="pre">0.577 /    -    /    -</text>
<text x="3166" y="513" class="pre"><tspan text-decoration="underline">154.875</tspan> /     -     /     -</text>

<text x="2471" y="530" class="pre">27.335 /    -    /    -</text>
<text x="2627" y="530" class="pre">0.813 /    -    /    -</text>
<text x="2762" y="530" class="pre">0.259 /    -    /    -</text>
<text x="2898" y="530" class="pre">0.790 /    -    /    -</text>
<text x="3032" y="530" class="pre">0.787 /    -    /    -</text>
<text x="3166" y="530" class="pre">399.239 /     -     /     -</text>

<g class="b">
<text x="2471" y="546" textLength="139">29.563 / 23.079 / 29.119</text>
<text x="2627" y="546" textLength="117">0.862 / 0.896 / 0.904</text>
<text x="2762" y="546" textLength="117">0.223 / 0.272 / 0.153</text>
<text x="2898" y="546" textLength="117">0.902 / 0.980 / 0.888</text>
<text x="3032" y="546" textLength="117">0.479 / 0.497 / 0.504</text>
<text x="3175" y="546" textLength="144">89.316 / 204.260 / 88.354</text>
</g>
</g>

<g filter="url(#blr)"><use href="#r3A" y="560"/><use href="#r3B" y="560"/><use href="#r3C" y="560"/></g>
<use href="#r3A" y="644.6"/><use href="#r3B" y="644.6"/><use href="#r3C" y="644.6"/>
<use href="#r3A" y="729.2"/><use href="#r3B" y="729.2"/><use href="#r3C" y="729.2"/>
<use href="#r3A" y="813.8"/><use href="#r3B" y="813.8"/><use href="#r3C" y="813.8"/>
<use href="#r3A" y="898.4"/><use href="#r3B" y="898.4"/><use href="#r3C" y="898.4"/>
<use href="#r3A" y="983"/><use href="#r3B" y="983"/><use href="#r3C" y="983"/>
<use href="#r3A" y="1067.6"/><use href="#r3B" y="1067.6"/><use href="#r3C" y="1067.6"/>
<line x1="2699.5" y1="560" x2="2699.5" y2="1152" stroke="#bbb" stroke-width="2" stroke-dasharray="8 5"/>
<line x1="3046" y1="560" x2="3046" y2="1152" stroke="#bbb" stroke-width="2" stroke-dasharray="8 5"/>
<g class="s b" font-size="18" fill="#111" text-anchor="middle" letter-spacing="1">
<text transform="translate(2351,602) rotate(-90)">Input</text>
<text transform="translate(2351,687) rotate(-90)">GPEN</text>
<text transform="translate(2351,772) rotate(-90)">Codeformer</text>
<text transform="translate(2351,856) rotate(-90)">PGDiff</text>
<text transform="translate(2351,941) rotate(-90)">PGTformer</text>
<text transform="translate(2351,1026) rotate(-90)">KEEP</text>
<text transform="translate(2351,1110) rotate(-90)">Ours</text>
</g>
<text x="2568" y="1179" class="s bl" font-size="26" textLength="101">Figure 3.</text>
<text x="2677" y="1179" class="s" font-size="26" fill="#111" textLength="496">Comparisons with Advanced BFR Methods.</text>

<use href="#r4A" y="1192.5" fill="#bdbdbd" color="#555" filter="url(#gy)"/>
<use href="#r4A" y="1278.5" fill="#b89a7a" color="#3a3aa0"/>
<use href="#r4A" y="1364.5" fill="#b09050" color="#2a2a34"/>
<use href="#r4A" y="1450.5" fill="#8aa08a" color="#3a4a44"/>
<use href="#r4A" y="1536.5" fill="#8a96a8" color="#5a4636"/>
<use href="#r4B" y="1192.5" fill="#444" color="#a8a8a8" filter="url(#gy)"/>
<use href="#r4B" y="1278.5" fill="#4a3a30" color="#b8b0a0"/>
<use href="#r4B" y="1364.5" fill="#4a3a2e" color="#8a8a8a"/>
<use href="#r4B" y="1450.5" fill="#2a3a48" color="#a0b0a0"/>
<use href="#r4B" y="1536.5" fill="#7a4a30" color="#c0b8b0"/>
<use href="#r4C" y="1192.5"/><use href="#r4C" y="1278.5"/><use href="#r4C" y="1364.5"/><use href="#r4C" y="1450.5"/><use href="#r4C" y="1536.5"/>
<use href="#r4D" y="1192.5"/><use href="#r4D" y="1278.5"/><use href="#r4D" y="1364.5"/><use href="#r4D" y="1450.5"/><use href="#r4D" y="1536.5"/>
<g fill="none" stroke="#fff" stroke-width="7" stroke-linejoin="round" stroke-linecap="round">
<path d="M2887 1212 L2895 1250 L2905 1218 L2917 1255 L2927 1218 L2939 1250 L2950 1210"/>
<path d="M2970 1212 L2978 1250 L2988 1218 L3000 1255 L3010 1218 L3022 1250 L3033 1210"/>
<path d="M3053 1212 L3061 1250 L3071 1218 L3083 1255 L3093 1218 L3105 1250 L3116 1210"/>
<path d="M3143 1242 L3155 1222 L3165 1262 L3177 1227 L3189 1267 L3201 1232 L3215 1272"/>
<path d="M3226 1242 L3238 1222 L3248 1262 L3260 1227 L3272 1267 L3284 1232 L3298 1272"/>
<path d="M3309 1242 L3321 1222 L3331 1262 L3343 1227 L3355 1267 L3367 1232 L3381 1272"/>
</g>
<line x1="2615" y1="1192" x2="2615" y2="1623" stroke="#bbb" stroke-width="2" stroke-dasharray="8 5"/>
<line x1="2873" y1="1192" x2="2873" y2="1623" stroke="#666" stroke-width="2"/>
<line x1="3132" y1="1192" x2="3132" y2="1623" stroke="#bbb" stroke-width="2" stroke-dasharray="8 5"/>
<g class="s b" font-size="18" fill="#111" text-anchor="middle" letter-spacing="1">
<text transform="translate(2351,1235) rotate(-90)">Input</text>
<text transform="translate(2351,1321) rotate(-90)">GPEN</text>
<text transform="translate(2351,1407) rotate(-90)">Codeformer</text>
<text transform="translate(2351,1493) rotate(-90)">PGDiff</text>
<text transform="translate(2351,1579) rotate(-90)">Ours</text>
</g>
<text x="2357" y="1656" class="s bl" font-size="26" textLength="100">Figure 4.</text>
<text x="2466" y="1656" class="s" font-size="26" fill="#111" textLength="895">Comparisons with Advanced Colorization (left) and Inpainting (right) Methods.</text>
</svg>
</body></html>
